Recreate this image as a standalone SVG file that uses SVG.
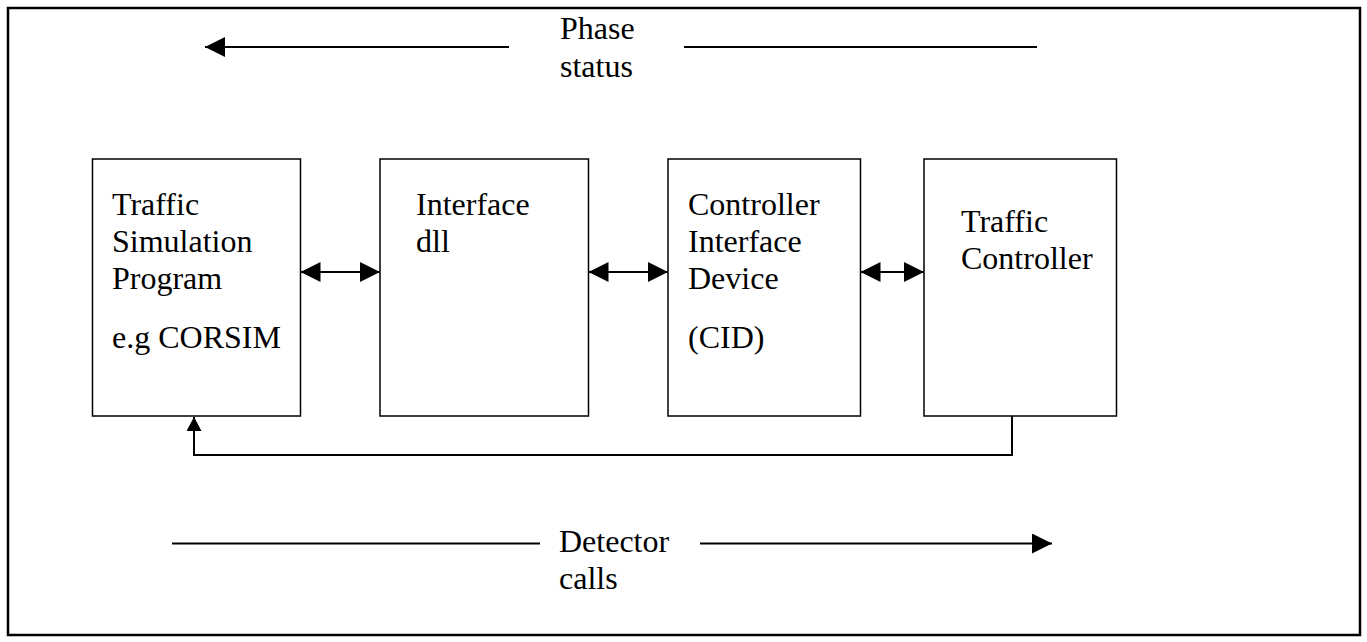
<svg xmlns="http://www.w3.org/2000/svg" width="1367" height="642" viewBox="0 0 1367 642">
<style>
.box{fill:#fff;stroke:#000;stroke-width:1.5}
.ln{fill:none;stroke:#000;stroke-width:2}
text{font-family:"Liberation Serif","Times New Roman",serif;font-size:32px;fill:#000}
</style>
<defs>
<marker id="ah" viewBox="0 0 20 20" refX="20" refY="10" markerWidth="20" markerHeight="20" markerUnits="userSpaceOnUse" orient="auto-start-reverse">
<path d="M0,0 L20,10 L0,20 Z" fill="#000"/>
</marker>
<marker id="ahs" viewBox="0 0 14 15" refX="14" refY="7.5" markerWidth="14" markerHeight="15" markerUnits="userSpaceOnUse" orient="auto">
<path d="M0,0 L14,7.5 L0,15 Z" fill="#000"/>
</marker>
</defs>
<rect x="8" y="8" width="1352" height="627" fill="#fff" stroke="#000" stroke-width="2.5"/>
<g id="n1">
<rect class="box" x="92.5" y="159" width="208" height="257"/>
<text x="112" y="215">Traffic</text>
<text x="112" y="252">Simulation</text>
<text x="112" y="289">Program</text>
<text x="112" y="348">e.g CORSIM</text>
</g>
<g id="n2">
<rect class="box" x="380" y="159" width="208.5" height="257"/>
<text x="416" y="215">Interface</text>
<text x="416" y="252">dll</text>
</g>
<g id="n3">
<rect class="box" x="668" y="159" width="192.5" height="257"/>
<text x="688" y="215">Controller</text>
<text x="688" y="252">Interface</text>
<text x="688" y="289">Device</text>
<text x="688" y="348">(CID)</text>
</g>
<g id="n4">
<rect class="box" x="924" y="159" width="192.5" height="257"/>
<text x="961" y="232">Traffic</text>
<text x="961" y="269">Controller</text>
</g>
<g id="phase">
<text x="560" y="39">Phase</text>
<text x="560" y="77">status</text>
</g>
<g id="detector">
<text x="559" y="552">Detector</text>
<text x="559" y="589">calls</text>
</g>
<g id="connectors">
<line class="ln" x1="300.5" y1="272" x2="380" y2="272" marker-start="url(#ah)" marker-end="url(#ah)"/>
<line class="ln" x1="588.5" y1="272" x2="668" y2="272" marker-start="url(#ah)" marker-end="url(#ah)"/>
<line class="ln" x1="860.5" y1="272" x2="924" y2="272" marker-start="url(#ah)" marker-end="url(#ah)"/>
<polyline class="ln" points="1012,416 1012,455 194,455 194,417" marker-end="url(#ahs)"/>
<line class="ln" x1="509" y1="47" x2="205" y2="47" marker-end="url(#ah)"/>
<line class="ln" x1="684" y1="47" x2="1037" y2="47"/>
<line class="ln" x1="172" y1="543.5" x2="540" y2="543.5"/>
<line class="ln" x1="700" y1="543.5" x2="1052" y2="543.5" marker-end="url(#ah)"/>
</g>
</svg>
